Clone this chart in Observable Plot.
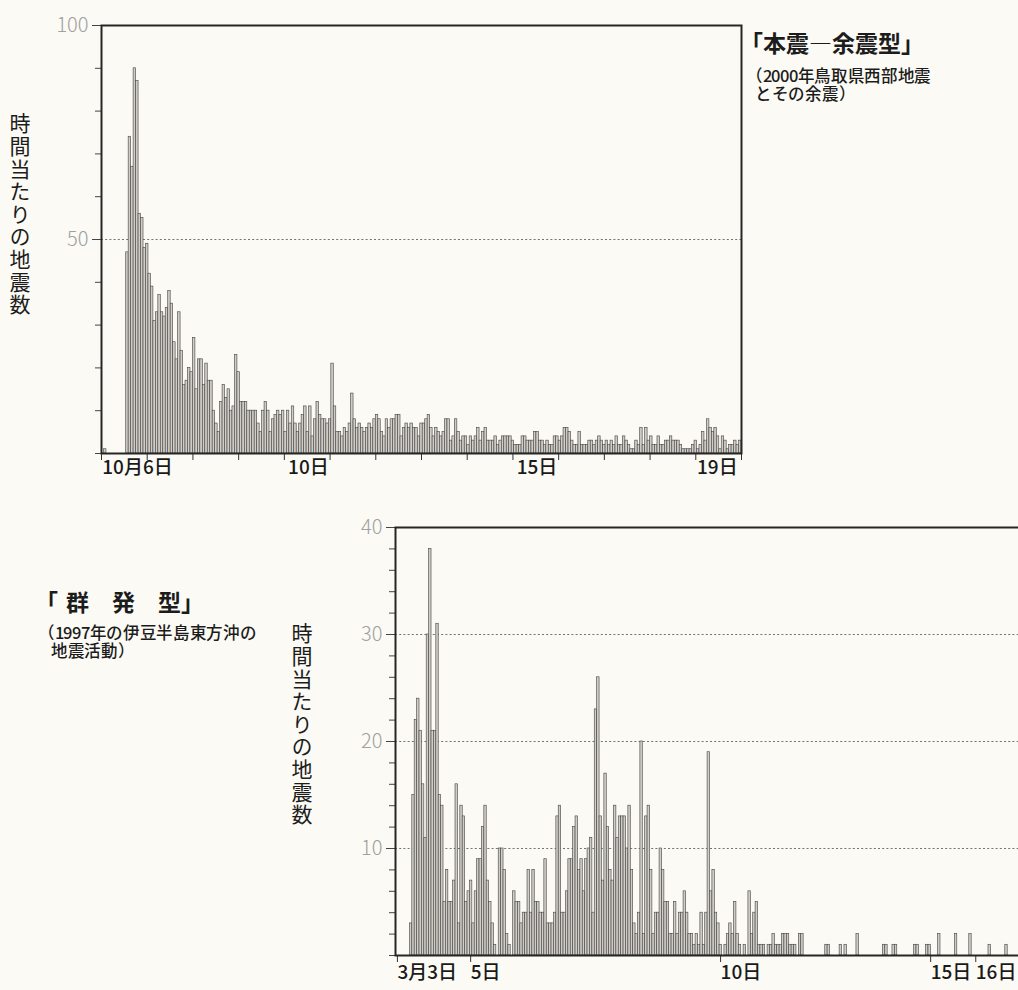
<!DOCTYPE html>
<html lang="ja">
<head>
<meta charset="utf-8">
<script src="https://cdn.jsdelivr.net/npm/d3@7"></script>
<script src="https://cdn.jsdelivr.net/npm/@observablehq/plot@0.6"></script>
<style>
@font-face {
  font-family: "JPTight";
  src: local("Noto Sans CJK JP Medium"), local("NotoSansCJKjp-Medium"), local("NotoSansCJKJP-Medium"),
       local("Noto Sans CJK JP"), local("Noto Sans CJK JP Regular"), local("NotoSansCJKjp-Regular");
  ascent-override: 88%;
  descent-override: 12%;
  line-gap-override: 0%;
}
html, body { margin:0; padding:0; background:#fbfaf4; }
body { width:1018px; height:990px; overflow:hidden; }
#page { position:relative; width:1018px; height:990px; overflow:hidden; font-family:"Noto Sans CJK JP", sans-serif; color:#1c1c1c; }
.abs { position:absolute; white-space:nowrap; }
.title { font-size:23px; line-height:24px; font-weight:700; }
.sub { font-family:"JPTight", "Noto Sans CJK JP", sans-serif; font-size:16.5px; line-height:17px; height:17px; font-weight:500; letter-spacing:-0.3px; }
.vt { writing-mode:vertical-rl; font-size:21px; line-height:21px; font-weight:400; letter-spacing:1.6px; }
</style>
</head>
<body>
<div id="page">
  <div id="chartTop" class="abs" style="left:0;top:0"></div>
  <div id="chartBottom" class="abs" style="left:0;top:500px"></div>

  <div class="abs vt" style="left:9px;top:113px">時間当たりの地震数</div>
  <div class="abs vt" style="left:291px;top:623px">時間当たりの地震数</div>

  <div class="abs title" style="left:740px;top:30px">「本震―余震型」</div>
  <div class="abs sub" style="left:746px;top:67px">（2000年鳥取県西部地震</div>
  <div class="abs sub" style="left:755px;top:85px">とその余震）</div>

  <div class="abs title" style="left:35px;top:589px"><span style="margin-right:8px">「</span>群　発　型」</div>
  <div class="abs sub" style="left:38px;top:624px">（1997年の伊豆半島東方沖の</div>
  <div class="abs sub" style="left:51px;top:642px">地震活動）</div>
</div>
<script>
// ---- 「本震―余震型」 2000年鳥取県西部地震: hourly counts, in order ----
const mainshockCounts = [
  0,1,0,0,0,0,0,0,0,0,
  47,74,67,90,87,56,55,48,49,42,
  39,31,33,37,33,32,34,38,35,26,
  22,33,24,16,17,20,19,27,15,22,
  22,16,21,17,17,10,7,5,12,16,
  13,15,10,11,23,19,12,12,12,10,
  10,10,10,7,5,10,12,10,5,8,
  9,10,9,10,5,10,7,11,7,5,
  7,9,
  11,5,11,4,8,12,9,8,8,7,
  8,21,11,5,5,4,6,5,7,14,
  8,6,7,6,5,6,7,6,8,9,
  8,5,4,8,6,8,8,9,9,4,
  6,7,6,7,6,6,4,7,7,8,
  9,6,4,6,5,4,5,8,8,3,
  4,8,5,3,4,4,2,4,3,4,
  6,3,5,6,3,3,3,4,2,3,
  4,4,4,4,3,2,2,2,4,4,
  3,3,3,5,5,3,3,2,3,2,
  2,4,4,3,4,6,6,5,3,2,
  2,5,2,2,2,3,3,2,3,4,
  3,2,3,2,3,2,4,2,2,4,
  3,2,1,1,3,2,6,2,6,3,
  4,2,2,4,2,2,3,3,4,3,
  3,3,2,1,1,1,1,2,3,1,
  2,5,3,8,6,5,6,4,1,4,
  3,1,2,2,3,2,3
];
const mainshockDayTicks = [0,18.5,37,55.5,74,92.5,111,129.5,148,166.5,185,203.5,222,240.5,259];
const mainshockDayLabels = [
  {at:0.3, label:"10月6日"},
  {at:75.5, label:"10日"},
  {at:168, label:"15日"},
  {at:241, label:"19日"}
];
const mainshockYMinor = [0,10,20,30,40,50,60,70,80,90,100];
const mainshockYMajor = [50,100];
const mainshockGrid = [50];

// ---- 「群発型」 1997年伊豆半島東方沖: hourly counts, in order ----
const swarmCounts = [
  0,0,0,0,0,0,3,15,22,24,
  21,16,11,30,38,21,21,31,15,14,
  5,8,5,5,7,16,3,14,13,5,
  6,7,3,6,9,9,12,14,7,5,
  3,1,0,10,10,8,2,1,0,6,
  5,5,3,4,4,8,4,8,5,5,
  4,4,9,3,3,3,4,13,14,4,
  4,6,9,9,12,13,8,9,6,9,
  10,11,4,23,26,13,7,17,12,8,
  7,14,11,13,13,13,10,14,8,3,
  2,4,20,2,13,14,8,2,4,4,
  10,8,5,5,2,2,5,2,4,4,
  6,4,2,2,1,2,1,4,1,4,
  19,6,8,4,3,1,0,1,2,3,
  2,5,2,1,0,1,0,6,2,4,
  5,1,1,1,0,1,1,2,1,1,
  1,2,2,2,1,1,1,0,2,2,
  0,0,0,0,0,0,0,0,0,1,
  1,0,0,0,0,1,0,1,0,0,
  0,0,2,0,0,0,0,0,0,0,
  0,0,0,1,1,0,0,1,1,0,
  0,0,0,0,0,0,1,1,0,0,
  0,1,1,0,0,0,2,0,0,0,
  0,0,0,2,0,0,0,0,0,2,
  0,0,0,0,0,0,0,1,0,0,
  0,0,0,0,1,0,0,0,0,0,
  0,0
];
const swarmDayLabels = [
  {at:0.8, label:"3月3日"},
  {at:31.3, label:"5日"},
  {at:135.4, label:"10日"},
  {at:222.9, label:"15日"},
  {at:241.7, label:"16日"}
];
const swarmYMinor = [0,2,4,6,8,10,12,14,16,18,20,22,24,26,28,30,32,34,36,38,40];
const swarmYMajor = [10,20,30,40];
const swarmGrid = [10,20,30];

const jp = '"Noto Sans CJK JP", sans-serif';

function histogram({counts, xMax, yMax, width, height, marginLeft, marginRight, marginTop, marginBottom,
                    yMinor, yMajor, grid, dayTicks, dayLabels, labelDy}) {
  const bars = counts.map((v, i) => ({i, v})).filter(d => d.v > 0);
  return Plot.plot({
    width, height, marginLeft, marginRight, marginTop, marginBottom,
    style: "background:transparent;max-width:none;overflow:visible;",
    x: {domain: [0, xMax], label: null},
    y: {domain: [0, yMax], label: null},
    marks: [
      Plot.ruleY(grid, {stroke: "#727272", strokeWidth: 1, strokeDasharray: "2,2.2"}),
      Plot.rectY(bars, {x1: "i", x2: d => d.i + 1, y: "v", fill: "#d0cdc6", stroke: "#4c4c4c", strokeWidth: 0.65}),
      Plot.axisY(yMinor, {tickSize: 6, tickFormat: () => "", stroke: "#444", label: null}),
      Plot.axisY(yMajor, {tickSize: 9, tickPadding: 4, tickFormat: d => String(d), stroke: "#444",
                          fill: "#a0a0a0", fontSize: 20, fontWeight: 300, fontFamily: jp, label: null}),
      ...(dayTicks ? [Plot.axisX(dayTicks, {tickSize: 7, tickFormat: () => "", stroke: "#333", label: null})] : []),
      Plot.text(dayLabels, {x: "at", text: "label", frameAnchor: "bottom", lineAnchor: "middle", dy: labelDy,
                            textAnchor: "start", fontSize: 19, fontWeight: 500, fontFamily: jp, fill: "#1a1a1a"}),
      Plot.frame({stroke: "#262626", strokeWidth: 2})
    ]
  });
}

document.getElementById("chartTop").append(histogram({
  counts: mainshockCounts, xMax: mainshockCounts.length, yMax: 100,
  width: 760, height: 490, marginLeft: 101, marginRight: 19, marginTop: 25, marginBottom: 37,
  yMinor: mainshockYMinor, yMajor: mainshockYMajor, grid: mainshockGrid,
  dayTicks: mainshockDayTicks, dayLabels: mainshockDayLabels, labelDy: 14
}));

document.getElementById("chartBottom").append(histogram({
  counts: swarmCounts, xMax: swarmCounts.length, yMax: 40,
  width: 1034, height: 490, marginLeft: 395, marginRight: 10, marginTop: 27, marginBottom: 35,
  yMinor: swarmYMinor, yMajor: swarmYMajor, grid: swarmGrid,
  dayTicks: swarmDayLabels.map(d => d.at), dayLabels: swarmDayLabels, labelDy: 17
}));
</script>
</body>
</html>
